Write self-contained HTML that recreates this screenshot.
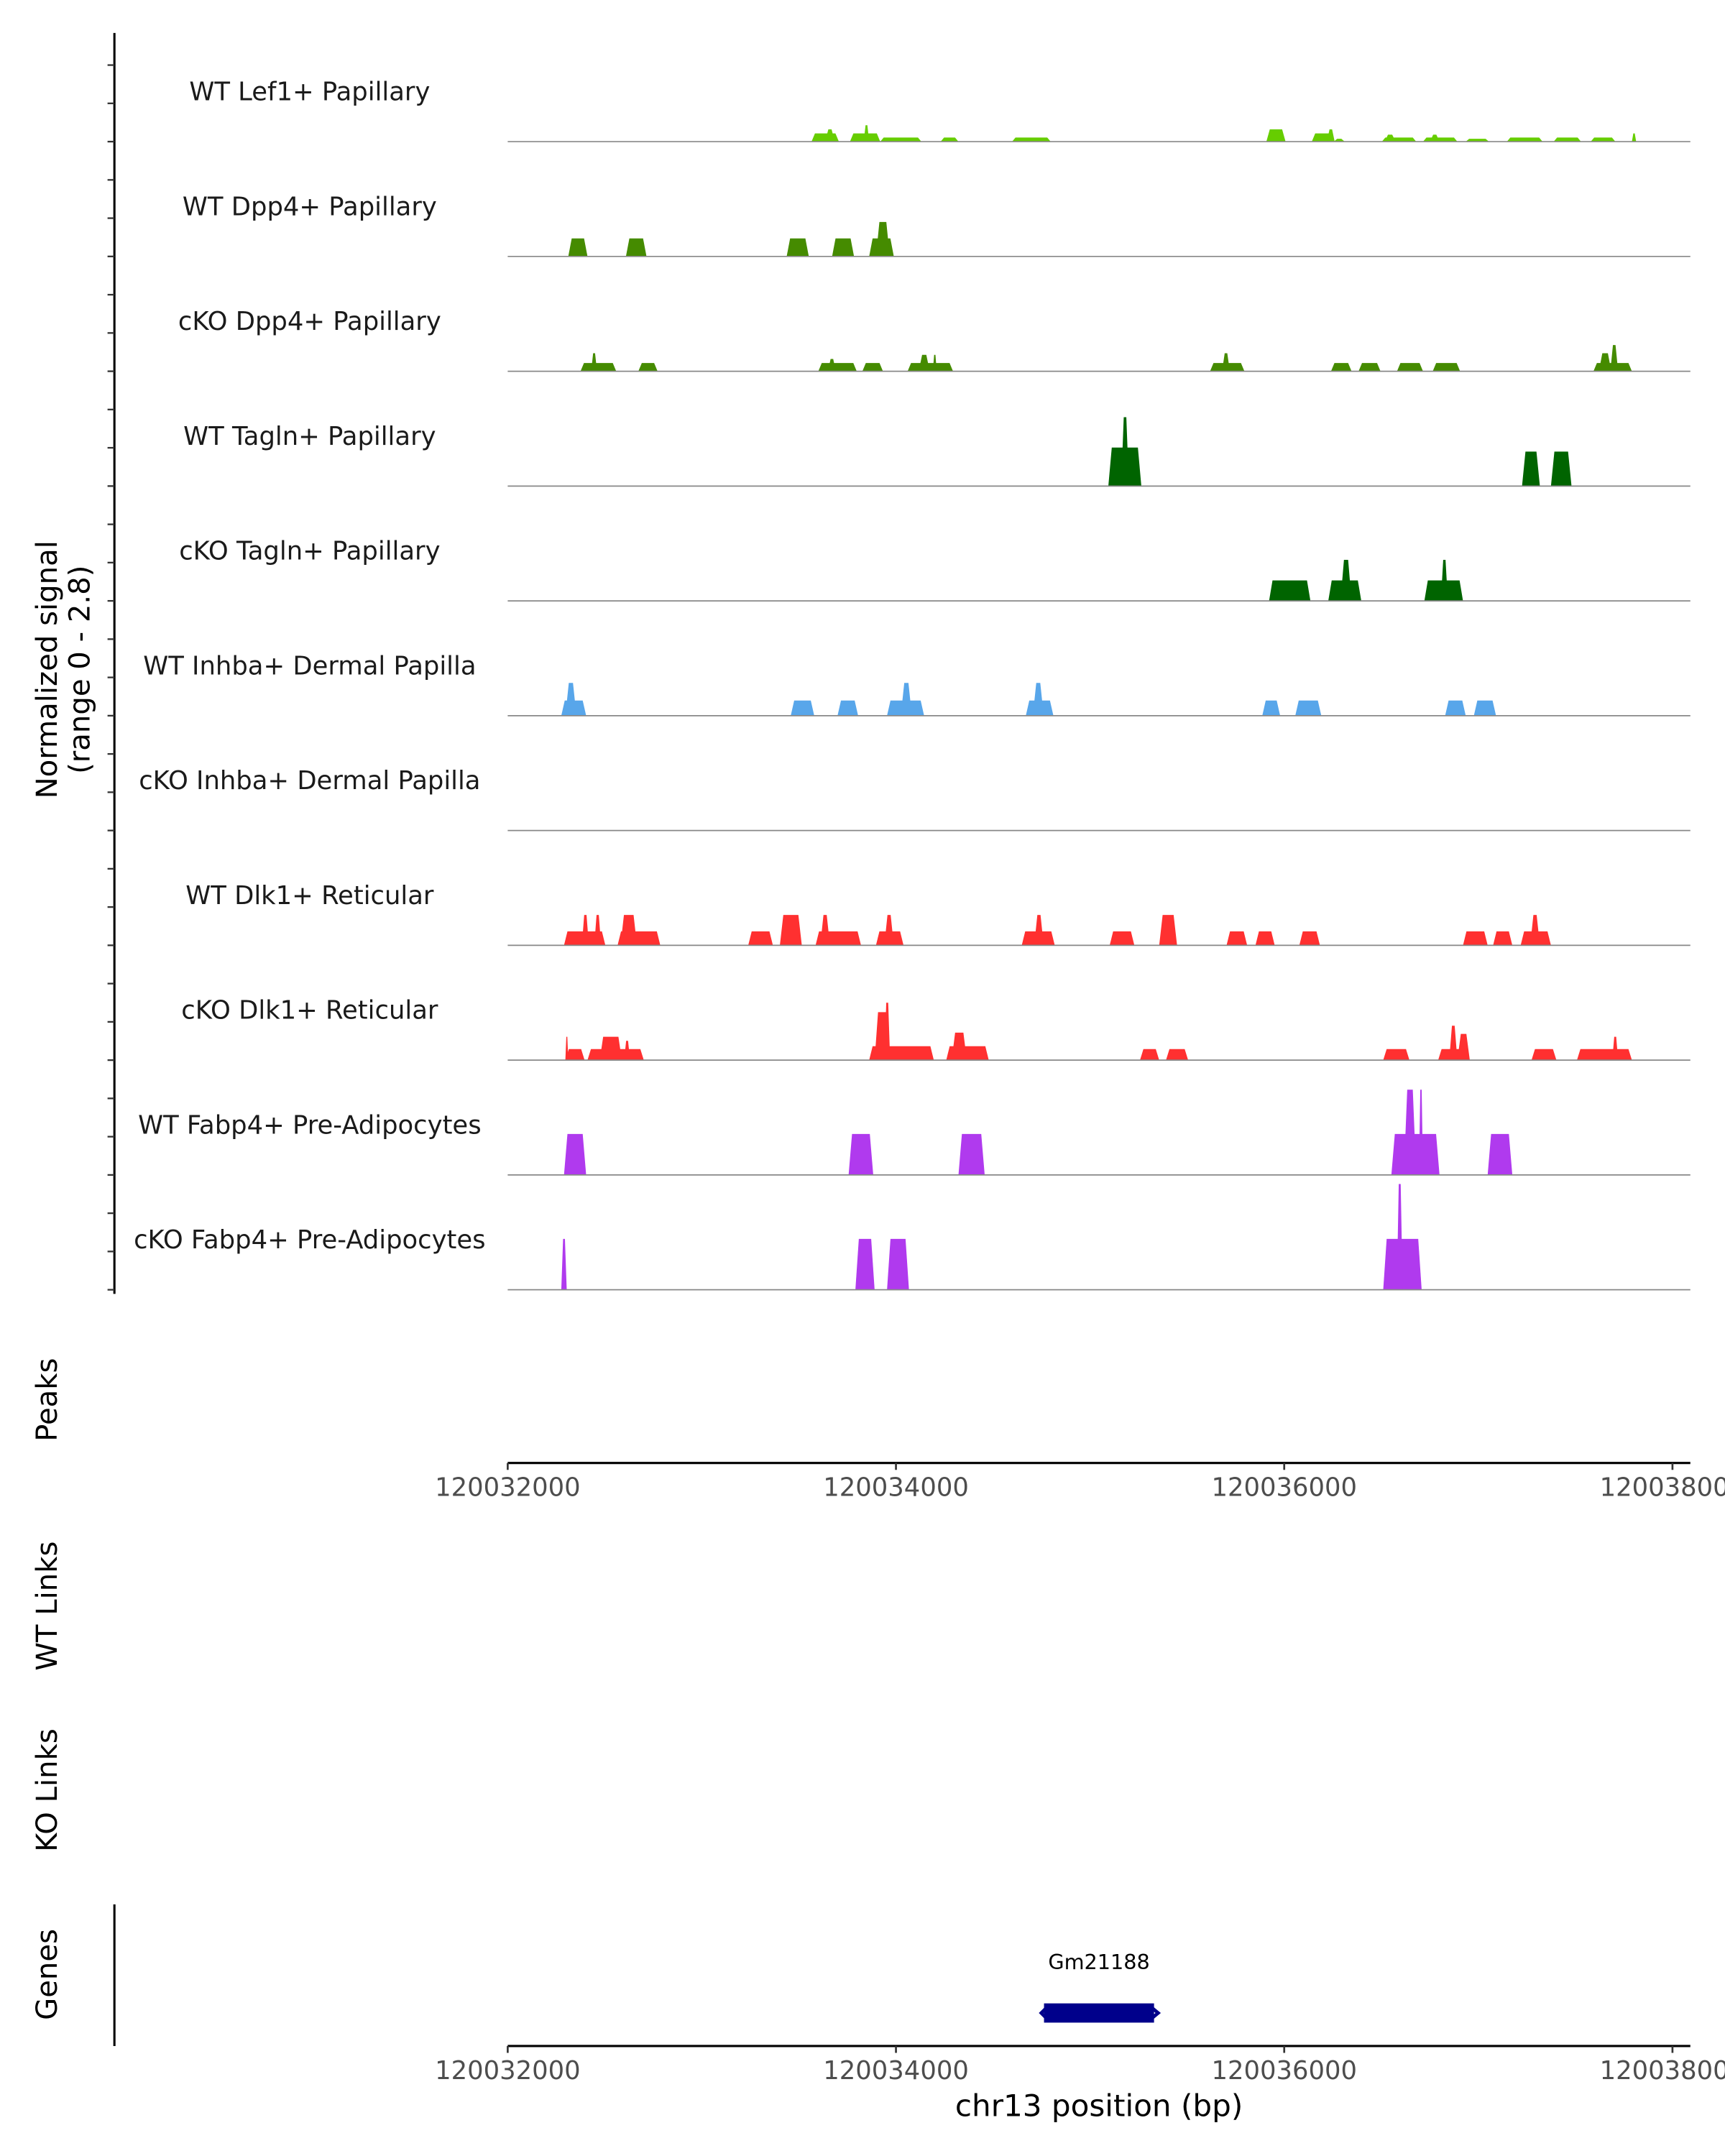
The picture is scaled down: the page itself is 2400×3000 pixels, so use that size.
<!DOCTYPE html>
<html><head><meta charset="utf-8">
<style>
html,body{margin:0;padding:0;background:#fff;}
svg{display:block;font-family:"DejaVu Sans","Liberation Sans",sans-serif;}
</style></head>
<body>
<svg id="chart" width="2400" height="3000" viewBox="0 0 1254 1568" xmlns="http://www.w3.org/2000/svg">
<rect x="0" y="0" width="1254" height="1568" fill="#fff"/>
<g id="tracks"></g>
<line x1="83" y1="24" x2="83" y2="941" stroke="#000" stroke-width="1.6"/>
<g id="yticks"></g>
<text transform="translate(41,487) rotate(-90)" text-anchor="middle" font-size="21">Normalized signal</text>
<text transform="translate(65,487) rotate(-90)" text-anchor="middle" font-size="21">(range 0 - 2.8)</text>
<text transform="translate(41,1018) rotate(-90)" text-anchor="middle" font-size="21">Peaks</text>
<text transform="translate(41,1168) rotate(-90)" text-anchor="middle" font-size="21">WT Links</text>
<text transform="translate(41,1302) rotate(-90)" text-anchor="middle" font-size="21">KO Links</text>
<text transform="translate(41,1436) rotate(-90)" text-anchor="middle" font-size="21">Genes</text>
<line x1="83" y1="1385" x2="83" y2="1488" stroke="#000" stroke-width="1.6"/>
<g id="xaxes"></g>
<g>
<rect x="759" y="1457" width="80" height="14" fill="#00008B"/>
<path d="M761 1460 L757 1464 L761 1468" stroke="#00008B" stroke-width="2.5" fill="none"/>
<path d="M836 1459 L842 1464 L836 1469" stroke="#00008B" stroke-width="2.5" fill="none"/>
<text x="799" y="1432" text-anchor="middle" font-size="15" fill="#000">Gm21188</text>
</g>
<text x="799" y="1539" text-anchor="middle" font-size="22">chr13 position (bp)</text>
</svg>
<script>
const regionStart = 120032000;
const regionEnd = 120038000;
const trackNames = ["WT Lef1+ Papillary","WT Dpp4+ Papillary","cKO Dpp4+ Papillary","WT Tagln+ Papillary","cKO Tagln+ Papillary","WT Inhba+ Dermal Papilla","cKO Inhba+ Dermal Papilla","WT Dlk1+ Reticular","cKO Dlk1+ Reticular","WT Fabp4+ Pre-Adipocytes","cKO Fabp4+ Pre-Adipocytes"];
const trackColors = ["#66CD00","#458B00","#458B00","#006400","#006400","#58A6EA","#58A6EA","#FF3030","#FF3030","#B03AEE","#B03AEE"];
const xTicks = [120032000,120034000,120036000,120038000];
// segments: [startOffsetBp, endOffsetBp, value]
const t0 = [[1565,1706,0.2],[1635,1685,0.3],[1763,1919,0.2],[1834,1862,0.4],[1919,2131,0.1],[2230,2322,0.1],[2598,2797,0.1],[3908,4007,0.3],[4142,4255,0.2],[4220,4260,0.3],[4255,4312,0.07],[4503,4680,0.1],[4517,4574,0.17],[4715,4892,0.1],[4751,4800,0.17],[4935,5055,0.07],[5147,5331,0.1],[5388,5529,0.1],[5579,5706,0.1],[5791,5813,0.2]];
const t1 = [[312,411,0.44],[609,715,0.44],[1437,1551,0.44],[1671,1784,0.44],[1862,1989,0.44],[1897,1968,0.84]];
const t2 = [[375,559,0.2],[430,460,0.44],[673,772,0.2],[1600,1798,0.2],[1650,1690,0.3],[1827,1933,0.2],[2060,2294,0.2],[2117,2174,0.4],[2190,2210,0.4],[3618,3795,0.2],[3680,3720,0.44],[4241,4347,0.2],[4383,4496,0.2],[4581,4715,0.2],[4765,4906,0.2],[5593,5791,0.2],[5621,5685,0.44],[5680,5720,0.64]];
const t3 = [[3094,3264,0.94],[3160,3200,1.68],[5225,5317,0.84],[5374,5480,0.84]];
const t4 = [[3922,4135,0.5],[4227,4397,0.5],[4290,4347,1.0],[4722,4921,0.5],[4807,4843,1.0]];
const t5 = [[276,404,0.37],[297,354,0.8],[1458,1579,0.37],[1699,1805,0.37],[1954,2145,0.37],[2025,2082,0.8],[2669,2811,0.37],[2705,2761,0.8],[3887,3979,0.37],[4057,4191,0.37],[4829,4935,0.37],[4977,5091,0.37]];
const t6 = [];
const t7 = [[290,503,0.34],[382,418,0.74],[446,481,0.74],[566,786,0.34],[581,666,0.74],[1239,1366,0.34],[1402,1515,0.74],[1586,1820,0.34],[1610,1660,0.74],[1897,2039,0.34],[1940,1989,0.74],[2648,2818,0.34],[2712,2761,0.74],[3101,3228,0.34],[3356,3448,0.74],[3703,3809,0.34],[3852,3951,0.34],[4078,4184,0.34],[4921,5048,0.34],[5076,5175,0.34],[5218,5374,0.34],[5267,5317,0.74]];
const t8 = [[297,396,0.27],[297,312,0.57],[411,701,0.27],[474,588,0.57],[600,630,0.47],[1862,2195,0.34],[1890,1968,1.17],[1940,1970,1.4],[2259,2478,0.34],[2287,2365,0.67],[3257,3356,0.27],[3391,3505,0.27],[4510,4645,0.27],[4793,4956,0.27],[4850,4892,0.84],[4892,4956,0.64],[5274,5402,0.27],[5508,5791,0.27],[5690,5720,0.57]];
const t9 = [[290,404,1.0],[1756,1883,1.0],[2322,2457,1.0],[4552,4800,1.0],[4616,4680,2.08],[4694,4715,2.08],[5048,5175,1.0]];
const t10 = [[276,304,1.24],[1791,1890,1.24],[1954,2067,1.24],[4510,4708,1.24],[4580,4610,2.58]];
const trackSegments = [t0,t1,t2,t3,t4,t5,t6,t7,t8,t9,t10];

const NS = "http://www.w3.org/2000/svg";
const x0 = 369, x1 = 1216;
const xScale = bp => x0 + (bp - regionStart) / (regionEnd - regionStart) * (x1 - x0);
const trackH = 83.5, firstBase = 103, maxVal = 2.8;
const yScale = (v, base) => base - v / maxVal * trackH;
const tracksG = document.getElementById('tracks');
trackNames.forEach((name, i) => {
  const base = firstBase + i * trackH;
  const g = document.createElementNS(NS, 'g');
  
  
  trackSegments[i].forEach(s => {
    const a = xScale(regionStart + s[0]), b = xScale(regionStart + s[1]);
    const top = yScale(s[2], base);
    const r = Math.min(2.5, (b - a) / 3);
    const p = document.createElementNS(NS, 'polygon');
    p.setAttribute('points', `${a},${base} ${a + r},${top} ${b - r},${top} ${b},${base}`);
    p.setAttribute('fill', trackColors[i]);
    
    
    g.appendChild(p);
  });
  const ln = document.createElementNS(NS, 'line');
  ln.setAttribute('x1', 369); ln.setAttribute('x2', 1229);
  ln.setAttribute('y1', base); ln.setAttribute('y2', base);
  ln.setAttribute('stroke', '#888'); ln.setAttribute('stroke-width', '0.9');
  
  
  g.appendChild(ln);
  const t = document.createElementNS(NS, 'text');
  t.setAttribute('x', 225); t.setAttribute('y', base - 30);
  t.setAttribute('text-anchor', 'middle'); t.setAttribute('font-size', '18.5');
  t.setAttribute('fill', '#1a1a1a');
  t.textContent = name;
  
  
  g.appendChild(t);
  tracksG.appendChild(g);
});
const yt = document.getElementById('yticks');
for (let k = 1; k <= 33; k++) {
  const y = 19.5 + k * trackH / 3;
  if (y > 941) break;
  const l = document.createElementNS(NS, 'line');
  l.setAttribute('x1', 78); l.setAttribute('x2', 83);
  l.setAttribute('y1', y); l.setAttribute('y2', y);
  l.setAttribute('stroke', '#333'); l.setAttribute('stroke-width', '1.2');
  
  
  yt.appendChild(l);
}
const xa = document.getElementById('xaxes');
[1064, 1488].forEach((ay, idx) => {
  const l = document.createElementNS(NS, 'line');
  l.setAttribute('x1', 369); l.setAttribute('x2', 1229);
  l.setAttribute('y1', ay); l.setAttribute('y2', ay);
  l.setAttribute('stroke', '#000'); l.setAttribute('stroke-width', '1.6');
  
  
  xa.appendChild(l);
  xTicks.forEach(v => {
    const x = xScale(v);
    const tk = document.createElementNS(NS, 'line');
    tk.setAttribute('x1', x); tk.setAttribute('x2', x);
    tk.setAttribute('y1', ay); tk.setAttribute('y2', ay + 5);
    tk.setAttribute('stroke', '#333'); tk.setAttribute('stroke-width', '1.4');
    
    
    xa.appendChild(tk);
    const t = document.createElementNS(NS, 'text');
    t.setAttribute('x', x); t.setAttribute('y', ay + 24);
    t.setAttribute('text-anchor', 'middle'); t.setAttribute('font-size', '18.5');
    t.setAttribute('fill', '#4d4d4d');
    t.textContent = v;
    
    
    xa.appendChild(t);
  });
});
</script>
</body></html>
